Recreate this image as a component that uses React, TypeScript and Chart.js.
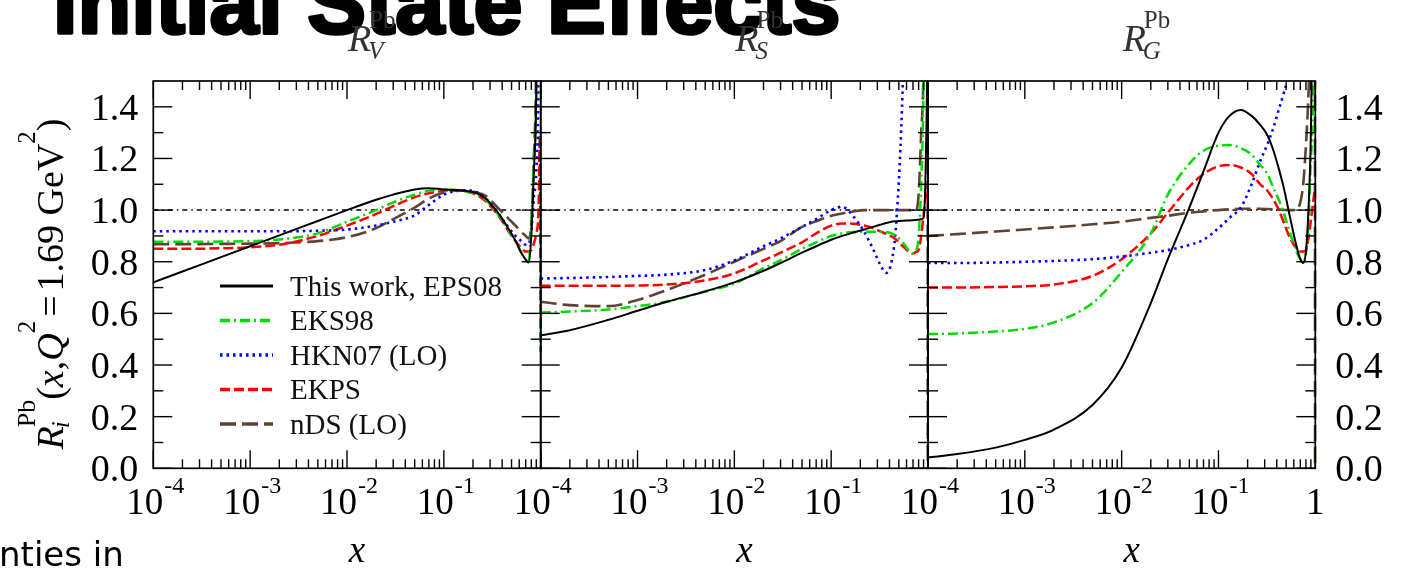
import React, { useEffect, useRef } from 'react';
import { Chart, registerables } from 'chart.js';

Chart.register(...registerables);

// ---------------- data ----------------
const X_GRID = [1e-4, 2e-4, 5e-4, 1e-3, 2e-3, 5e-3, 0.01, 0.02, 0.03, 0.05, 0.07, 0.1, 0.13, 0.17, 0.22, 0.27, 0.32, 0.37, 0.42, 0.47, 0.55, 0.63, 0.7, 0.75, 0.8, 0.85, 0.9, 0.95, 0.98, 1.0];

const SERIES_LABELS = ['This work, EPS08', 'EKS98', 'HKN07 (LO)', 'EKPS', 'nDS (LO)'];

// R_V^Pb
const RV_EPS08 = [0.72, 0.762, 0.818, 0.86, 0.902, 0.958, 1.0, 1.04, 1.06, 1.08, 1.085, 1.08, 1.078, 1.074, 1.065, 1.045, 1.015, 0.985, 0.955, 0.925, 0.88, 0.835, 0.808, 0.797, 0.9, 1.15, 1.45, 2.5, 4, 5];
const RV_EKS98 = [0.877, 0.877, 0.878, 0.88, 0.886, 0.91, 0.955, 1.0, 1.03, 1.06, 1.075, 1.08, 1.078, 1.072, 1.06, 1.04, 1.01, 0.98, 0.95, 0.92, 0.88, 0.835, 0.808, 0.8, 0.95, 1.2, 1.45, 2.5, 4, 5];
const RV_HKN07 = [0.918, 0.918, 0.918, 0.918, 0.918, 0.92, 0.925, 0.94, 0.955, 0.98, 1.02, 1.06, 1.073, 1.077, 1.068, 1.045, 1.015, 0.985, 0.955, 0.93, 0.9, 0.88, 0.866, 0.868, 0.92, 1.05, 1.15, 1.6, 3, 5];
const RV_EKPS = [0.85, 0.85, 0.852, 0.856, 0.866, 0.9, 0.94, 0.985, 1.015, 1.05, 1.065, 1.075, 1.078, 1.072, 1.058, 1.035, 1.005, 0.975, 0.945, 0.915, 0.88, 0.852, 0.84, 0.84, 0.845, 0.87, 0.91, 1.0, 1.29, 0.45];
const RV_NDS = [0.868, 0.868, 0.869, 0.87, 0.872, 0.88, 0.895, 0.93, 0.965, 1.01, 1.045, 1.068, 1.075, 1.075, 1.068, 1.055, 1.03, 1.005, 0.985, 0.965, 0.94, 0.915, 0.9, 0.89, 0.95, 1.2, 1.6, 3, 5, 5];

// R_S^Pb
const RS_EPS08 = [0.515, 0.535, 0.575, 0.61, 0.645, 0.685, 0.72, 0.765, 0.795, 0.835, 0.86, 0.885, 0.9, 0.913, 0.925, 0.935, 0.943, 0.95, 0.955, 0.957, 0.959, 0.96, 0.961, 0.962, 0.963, 0.965, 0.97, 1.2, 1.6, 2.5];
const RS_EKS98 = [0.603, 0.607, 0.615, 0.628, 0.645, 0.685, 0.715, 0.775, 0.805, 0.85, 0.875, 0.9, 0.91, 0.915, 0.916, 0.916, 0.916, 0.915, 0.91, 0.9, 0.875, 0.845, 0.833, 0.84, 0.9, 1.1, 1.5, 2.5, 4, 5];
const RS_HKN07 = [0.735, 0.737, 0.741, 0.745, 0.75, 0.768, 0.805, 0.86, 0.89, 0.935, 0.965, 1.0, 1.013, 0.975, 0.915, 0.85, 0.79, 0.757, 0.8, 0.95, 1.5, 2.5, 3, 3, 3, 3, 3, 3, 3, 3];
const RS_EKPS = [0.707, 0.707, 0.707, 0.708, 0.712, 0.728, 0.755, 0.805, 0.835, 0.875, 0.91, 0.94, 0.948, 0.947, 0.94, 0.93, 0.918, 0.908, 0.898, 0.885, 0.86, 0.84, 0.832, 0.838, 0.845, 0.9, 0.98, 1.05, 1.08, 1.1];
const RS_NDS = [0.645, 0.632, 0.628, 0.652, 0.69, 0.75, 0.8, 0.85, 0.88, 0.935, 0.957, 0.978, 0.987, 0.995, 1.0, 1.0, 1.0, 1.0, 1.0, 1.0, 1.0, 1.0, 1.0, 1.0, 1.06, 1.3, 1.6, 3, 6, -3];

// R_G^Pb
const RG_EPS08 = [0.042, 0.055, 0.08, 0.11, 0.15, 0.245, 0.39, 0.64, 0.81, 1.01, 1.15, 1.3, 1.365, 1.388, 1.365, 1.33, 1.29, 1.23, 1.16, 1.09, 0.97, 0.87, 0.81, 0.795, 0.84, 1.0, 1.3, 2, 3, 4];
const RG_EKS98 = [0.52, 0.522, 0.53, 0.54, 0.565, 0.64, 0.76, 0.91, 1.06, 1.18, 1.23, 1.25, 1.252, 1.24, 1.215, 1.175, 1.14, 1.085, 1.04, 0.99, 0.91, 0.845, 0.81, 0.8, 0.83, 0.95, 1.2, 1.5, 2.5, 4];
const RG_HKN07 = [0.795, 0.795, 0.797, 0.8, 0.803, 0.81, 0.82, 0.835, 0.845, 0.865, 0.885, 0.93, 0.97, 1.01, 1.1, 1.19, 1.255, 1.32, 1.39, 1.45, 1.55, 1.7, 1.85, 2, 2.2, 2.5, 3, 3, 3, 3];
const RG_EKPS = [0.7, 0.7, 0.702, 0.705, 0.712, 0.745, 0.81, 0.91, 0.99, 1.09, 1.14, 1.17, 1.175, 1.165, 1.14, 1.1, 1.075, 1.04, 1.0, 0.955, 0.89, 0.855, 0.84, 0.84, 0.845, 0.89, 0.96, 1.03, 1.07, 1.08];
const RG_NDS = [0.9, 0.907, 0.917, 0.925, 0.933, 0.945, 0.955, 0.97, 0.978, 0.99, 0.995, 1.0, 1.003, 1.005, 1.005, 1.005, 1.004, 1.003, 1.002, 1.001, 1.0, 1.0, 1.03, 1.1, 1.25, 1.45, 1.8, 3, 6, -3];

const PANEL_DATA = [
  [RV_EPS08, RV_EKS98, RV_HKN07, RV_EKPS, RV_NDS],
  [RS_EPS08, RS_EKS98, RS_HKN07, RS_EKPS, RS_NDS],
  [RG_EPS08, RG_EKS98, RG_HKN07, RG_EKPS, RG_NDS],
];

const PANEL_SUBSCRIPTS = ['V', 'S', 'G'];
const UNITY = [1, 1];
const Y_MAJOR = [0, 0.2, 0.4, 0.6, 0.8, 1.0, 1.2, 1.4];
const Y_MINOR = [0.1, 0.3, 0.5, 0.7, 0.9, 1.1, 1.3];
const X_DECADES = [-4, -3, -2, -1, 0];
const X_LABEL_EXPONENTS = [[-4, -3, -2, -1], [-4, -3, -2, -1], [-4, -3, -2, -1, 0]];
const X_MIN = 1e-4, X_MAX = 1, Y_MIN = 0, Y_MAX = 1.5;

const SLIDE_TITLE = 'Initial State Effects';
const SLIDE_FOOTER = 'nties in';

// ---------------- styles / layout ----------------
const STYLES = [
  { color: '#000000', dash: [] as number[], width: 2 },
  { color: '#00dc00', dash: [10, 4, 2, 4], width: 2.5 },
  { color: '#0000ff', dash: [2.5, 4], width: 2.6 },
  { color: '#ff0000', dash: [10, 4], width: 2.5 },
  { color: '#5e4335', dash: [16, 6], width: 2.6 },
];

const W = 1401, H = 571;
const PLOT_TOP = 81, PLOT_BOTTOM = 468.3;
const PANEL_EDGES = [153.3, 540.7, 928, 1315.3];
const SERIF = '"Liberation Serif", "Times New Roman", serif';

function seg(ctx: CanvasRenderingContext2D, x1: number, y1: number, x2: number, y2: number) {
  ctx.beginPath();
  ctx.moveTo(x1, y1);
  ctx.lineTo(x2, y2);
  ctx.stroke();
}

type Part = { t: string; font: string; dy: number; gapBefore?: number; gapAfter?: number; noAdvance?: boolean };

function richWidth(ctx: CanvasRenderingContext2D, parts: Part[]) {
  let w = 0;
  for (const p of parts) {
    ctx.font = p.font;
    if (!p.noAdvance) w += ctx.measureText(p.t).width + (p.gapBefore || 0) + (p.gapAfter || 0);
  }
  return w;
}

function drawRich(ctx: CanvasRenderingContext2D, parts: Part[], x0: number, y0: number) {
  let x = x0;
  ctx.textAlign = 'left';
  ctx.textBaseline = 'alphabetic';
  for (const p of parts) {
    ctx.font = p.font;
    x += p.gapBefore || 0;
    ctx.fillText(p.t, x, y0 + p.dy);
    if (!p.noAdvance) x += ctx.measureText(p.t).width + (p.gapAfter || 0);
  }
}

function decorPlugin(p: number) {
  return {
    id: 'decor' + p,
    beforeDraw(chart: any) {
      if (p !== 0) return;
      const ctx: CanvasRenderingContext2D = chart.ctx;
      ctx.save();
      ctx.fillStyle = '#000';
      ctx.strokeStyle = '#000';
      ctx.lineWidth = 3.5;
      ctx.lineJoin = 'round';
      ctx.textAlign = 'left';
      ctx.textBaseline = 'alphabetic';
      ctx.font = 'bold 88px "Liberation Sans", Arial, sans-serif';
      ctx.fillText(SLIDE_TITLE, 53, 33);
      ctx.strokeText(SLIDE_TITLE, 53, 33);
      ctx.font = '34px "DejaVu Sans", sans-serif';
      ctx.fillText(SLIDE_FOOTER, -1, 566);
      ctx.restore();
    },
    afterDraw(chart: any) {
      const ctx: CanvasRenderingContext2D = chart.ctx;
      const xs = chart.scales.x;
      const ys = chart.scales.y;
      const { left, right, top, bottom } = chart.chartArea;
      ctx.save();
      ctx.setLineDash([]);
      ctx.strokeStyle = '#000';
      ctx.fillStyle = '#000';

      // frame
      ctx.lineWidth = 1.7;
      ctx.strokeRect(left, top, right - left, bottom - top);

      // inward ticks
      ctx.lineWidth = 1.4;
      for (const v of Y_MAJOR) {
        const y = ys.getPixelForValue(v);
        seg(ctx, left, y, left + 19, y);
        seg(ctx, right, y, right - 19, y);
      }
      for (const v of Y_MINOR) {
        const y = ys.getPixelForValue(v);
        seg(ctx, left, y, left + 10, y);
        seg(ctx, right, y, right - 10, y);
      }
      for (const d of X_DECADES) {
        const m = Math.pow(10, d);
        const xm = xs.getPixelForValue(m);
        seg(ctx, xm, bottom, xm, bottom - 18);
        seg(ctx, xm, top, xm, top + 18);
        if (d < 0) {
          for (let k = 2; k <= 9; k++) {
            const x = xs.getPixelForValue(k * m);
            seg(ctx, x, bottom, x, bottom - 9);
            seg(ctx, x, top, x, top + 9);
          }
        }
      }

      // x tick labels
      ctx.textBaseline = 'alphabetic';
      for (const e of X_LABEL_EXPONENTS[p]) {
        const x = xs.getPixelForValue(Math.pow(10, e));
        if (e === 0) {
          ctx.font = `37px ${SERIF}`;
          ctx.textAlign = 'center';
          ctx.fillText('1', x, bottom + 46);
          continue;
        }
        ctx.font = `37px ${SERIF}`;
        const bw = ctx.measureText('10').width;
        ctx.font = `24px ${SERIF}`;
        const sup = String(e);
        const sw = ctx.measureText(sup).width;
        const x0 = x - (bw + sw + 1) / 2 + 2;
        ctx.textAlign = 'left';
        ctx.font = `37px ${SERIF}`;
        ctx.fillText('10', x0, bottom + 46);
        ctx.font = `24px ${SERIF}`;
        ctx.fillText(sup, x0 + bw + 1, bottom + 25);
      }

      // y tick labels
      if (p === 0 || p === 2) {
        ctx.font = `38px ${SERIF}`;
        for (const v of Y_MAJOR) {
          const y = ys.getPixelForValue(v) + 13;
          if (p === 0) {
            ctx.textAlign = 'right';
            ctx.fillText(v.toFixed(1), left - 15, y);
          } else {
            ctx.textAlign = 'left';
            ctx.fillText(v.toFixed(1), right + 20, y);
          }
        }
      }

      // x axis title
      const cx = (left + right) / 2;
      ctx.font = `italic 37px ${SERIF}`;
      ctx.textAlign = 'center';
      ctx.fillText('x', cx + 10, 562);

      // panel label R_X^Pb
      ctx.fillStyle = '#333';
      drawRich(ctx, [
        { t: 'R', font: `italic 38px ${SERIF}`, dy: 0 },
        { t: PANEL_SUBSCRIPTS[p], font: `italic 25px ${SERIF}`, dy: 8, gapBefore: -3, noAdvance: true },
        { t: 'Pb', font: `25px ${SERIF}`, dy: -23, gapBefore: 1 },
      ], cx + 1, 51);
      ctx.fillStyle = '#000';

      if (p === 0) {
        // y axis title (rotated)
        const parts: Part[] = [
          { t: 'R', font: `italic 38px ${SERIF}`, dy: 0 },
          { t: 'i', font: `italic 25px ${SERIF}`, dy: 6, gapBefore: -2, noAdvance: true },
          { t: 'Pb', font: `26px ${SERIF}`, dy: -28, gapBefore: 1 },
          { t: '(', font: `38px ${SERIF}`, dy: 0 },
          { t: 'x', font: `italic 38px ${SERIF}`, dy: 0 },
          { t: ',', font: `38px ${SERIF}`, dy: 0 },
          { t: 'Q', font: `italic 38px ${SERIF}`, dy: 0 },
          { t: '2', font: `25px ${SERIF}`, dy: -28 },
          { t: '=', font: `38px ${SERIF}`, dy: 0, gapBefore: 4, gapAfter: 4 },
          { t: '1.69 GeV', font: `38px ${SERIF}`, dy: 0 },
          { t: '2', font: `25px ${SERIF}`, dy: -28 },
          { t: ')', font: `38px ${SERIF}`, dy: 0 },
        ];
        ctx.save();
        ctx.translate(63, 283);
        ctx.rotate(-Math.PI / 2);
        const tw = richWidth(ctx, parts);
        drawRich(ctx, parts, -tw / 2, 0);
        ctx.restore();

        // legend
        const LEG_X1 = 220, LEG_X2 = 273, LEG_TX = 290, LEG_Y0 = 286, LEG_DY = 34.5;
        for (let i = 0; i < SERIES_LABELS.length; i++) {
          const y = LEG_Y0 + i * LEG_DY;
          const st = STYLES[i];
          ctx.strokeStyle = st.color;
          ctx.lineWidth = st.width + 0.8;
          ctx.setLineDash(st.dash);
          seg(ctx, LEG_X1, y, LEG_X2, y);
          ctx.setLineDash([]);
          ctx.fillStyle = '#111';
          ctx.font = `29px ${SERIF}`;
          ctx.textAlign = 'left';
          ctx.textBaseline = 'alphabetic';
          ctx.fillText(SERIES_LABELS[i], LEG_TX, y + 9.5);
        }
      }
      ctx.restore();
    },
  };
}

function buildConfig(p: number): any {
  const datasets: any[] = PANEL_DATA[p].map((arr, i) => ({
    label: SERIES_LABELS[i],
    data: X_GRID.map((x, j) => ({ x, y: arr[j] })),
    borderColor: STYLES[i].color,
    borderWidth: STYLES[i].width,
    borderDash: STYLES[i].dash,
    pointRadius: 0,
    fill: false,
    cubicInterpolationMode: 'monotone',
    clip: { left: 2, right: 2, top: 0, bottom: 0 },
  }));
  datasets.push({
    label: '',
    data: [{ x: X_MIN, y: UNITY[0] }, { x: X_MAX, y: UNITY[1] }],
    borderColor: '#000',
    borderWidth: 1.5,
    borderDash: [5, 4, 1.5, 4],
    pointRadius: 0,
    fill: false,
    clip: 0,
  });
  return {
    type: 'line',
    data: { datasets },
    options: {
      responsive: false,
      maintainAspectRatio: false,
      animation: false,
      devicePixelRatio: 1,
      events: [],
      layout: {
        padding: {
          left: PANEL_EDGES[p],
          right: W - PANEL_EDGES[p + 1],
          top: PLOT_TOP,
          bottom: H - PLOT_BOTTOM,
        },
      },
      scales: {
        x: { type: 'logarithmic', min: X_MIN, max: X_MAX, display: false },
        y: { type: 'linear', min: Y_MIN, max: Y_MAX, display: false },
      },
      plugins: { legend: { display: false }, tooltip: { enabled: false }, title: { display: false } },
    },
    plugins: [decorPlugin(p)],
  };
}

function Panel({ p }: { p: number }) {
  const ref = useRef<HTMLCanvasElement>(null);
  useEffect(() => {
    if (!ref.current) return;
    const chart = new Chart(ref.current, buildConfig(p));
    return () => chart.destroy();
  }, [p]);
  return (
    <canvas
      ref={ref}
      width={W}
      height={H}
      style={{ position: 'absolute', left: 0, top: 0, width: W, height: H, display: 'block' }}
    />
  );
}

export default function App() {
  return (
    <div style={{ position: 'fixed', left: 0, top: 0, width: W, height: H, background: '#ffffff', overflow: 'hidden' }}>
      <Panel p={0} />
      <Panel p={1} />
      <Panel p={2} />
    </div>
  );
}
